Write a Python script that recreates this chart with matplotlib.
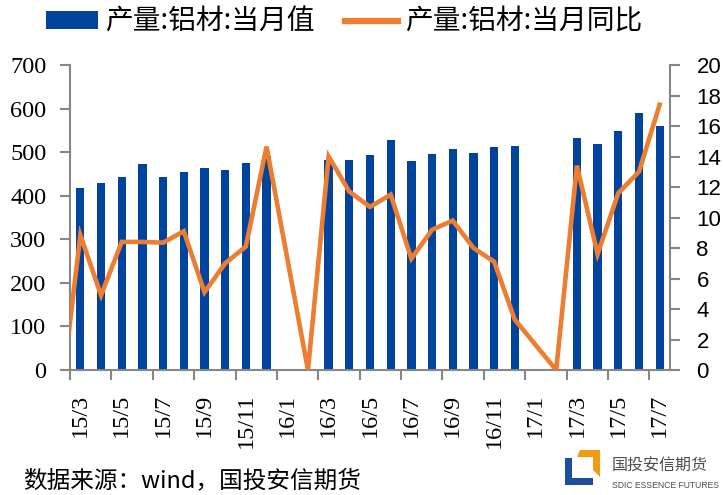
import numpy as np
import matplotlib
matplotlib.use("Agg")
import matplotlib.pyplot as plt
from matplotlib.patches import Polygon
from matplotlib.font_manager import FontProperties

# ---------------- data ----------------
months = ['15/2', '15/3', '15/4', '15/5', '15/6', '15/7', '15/8', '15/9', '15/10', '15/11', '15/12',
          '16/1', '16/2', '16/3', '16/4', '16/5', '16/6', '16/7', '16/8', '16/9', '16/10', '16/11', '16/12',
          '17/1', '17/2', '17/3', '17/4', '17/5', '17/6', '17/7']
output_value = [np.nan, 417, 429, 444, 473, 444, 454, 464, 458, 474, 492,
                np.nan, np.nan, 483, 481, 494, 528, 480, 496, 507, 499, 512, 514,
                np.nan, np.nan, 532, 518, 549, 589, 559]
output_yoy = [-2.6, 8.85, 4.9, 8.4, 8.4, 8.35, 9.1, 5.1, 7.0, 8.1, 14.65,
              np.nan, 0.0, 14.0, 11.7, 10.7, 11.5, 7.3, 9.2, 9.8, 8.0, 7.1, 3.3,
              np.nan, 0.0, 13.4, 7.6, 11.6, 13.0, 17.4]
left_ticks = [0, 100, 200, 300, 400, 500, 600, 700]
right_ticks = [0, 2, 4, 6, 8, 10, 12, 14, 16, 18, 20]
label_bar = '产量:铝材:当月值'
label_line = '产量:铝材:当月同比'
source_text = '数据来源：wind，国投安信期货'

BLUE = '#00449E'
ORANGE = '#ED7D31'
GRAY = '#868686'
CJK = ['Noto Sans CJK SC', 'DejaVu Sans']

plt.rcParams['font.family'] = 'Liberation Serif'

fig = plt.figure(figsize=(7.23, 4.95), dpi=100)
ax = fig.add_axes([70 / 723, 1 - 370 / 495, 600 / 723, 305 / 495])
ax2 = ax.twinx()

x = np.arange(len(months))
vals = np.array(output_value, dtype=float)
bars = ax.bar(x, vals, width=0.4, color=BLUE, zorder=2)

yoy = np.array(output_yoy, dtype=float)
ok = ~np.isnan(yoy)
line, = ax2.plot(x[ok], yoy[ok], color=ORANGE, lw=3.3, solid_joinstyle='miter', zorder=3)

ax.set_xlim(0.5, len(months) - 0.5)
ax.set_ylim(0, 700)
ax2.set_ylim(0, 20)

# spines
for a in (ax, ax2):
    a.spines['top'].set_visible(False)
    for s in ('left', 'right', 'bottom'):
        a.spines[s].set_color(GRAY)
        a.spines[s].set_linewidth(1.5)
ax.spines['right'].set_visible(False)
ax2.spines['left'].set_visible(False)
ax2.spines['bottom'].set_visible(False)

# y ticks
ax.set_yticks(left_ticks)
ax.tick_params(axis='y', direction='out', length=7, width=1.5, color=GRAY, pad=10)
ax2.set_yticks(right_ticks)
ax2.tick_params(axis='y', direction='out', length=7, width=1.5, color=GRAY, pad=12)

# x ticks: labels on odd months, tick marks between every two categories
lab_idx = x[1::2]
ax.set_xticks(lab_idx, labels=[months[i] for i in lab_idx])
ax.set_xticks(np.arange(0.5, len(months) - 1, 2), minor=True)
ax.tick_params(axis='x', which='major', length=0, pad=17, labelrotation=90)
ax.tick_params(axis='x', which='minor', direction='out', length=7, width=1.5, color=GRAY)

serif_fp = FontProperties(family='Liberation Serif', size=17.5)
sans_fp = FontProperties(family='Liberation Sans', size=16)
fig.canvas.draw()
for t in ax.get_yticklabels() + ax.get_xticklabels():
    t.set_fontproperties(serif_fp)
for t in ax2.get_yticklabels():
    t.set_fontproperties(sans_fp)

# legend
leg = fig.legend([bars, line], [label_bar, label_line], loc='center',
                 bbox_to_anchor=(344 / 723, 1 - 22 / 495), ncol=2, frameon=False,
                 prop={'family': CJK, 'size': 20},
                 handlelength=1.9, handleheight=0.6, handletextpad=0.25,
                 columnspacing=1.1, borderpad=0)
leg.legend_handles[1].set_linewidth(4.5)

# source note
fig.text(23 / 723, 1 - 481 / 495, source_text, fontsize=17, family=CJK, va='center', ha='left')

# logo
def px(xp, yp):
    return (xp / 723, 1 - yp / 495)

blue_poly = [px(565, 458), px(572, 458), px(572, 478), px(593, 478), px(593, 485), px(565, 485)]
orange_poly = [px(580, 450), px(600, 450), px(600, 477), px(593, 470), px(593, 457), px(577, 457)]
fig.patches.append(Polygon(blue_poly, closed=True, facecolor='#1F4E9E', edgecolor='none',
                           transform=fig.transFigure, figure=fig))
fig.patches.append(Polygon(orange_poly, closed=True, facecolor='#F29B11', edgecolor='none',
                           transform=fig.transFigure, figure=fig))
fig.text(612 / 723, 1 - 466 / 495, '国投安信期货', fontsize=11.5, family=CJK, color='#4D4D4D',
         va='center', ha='left')
fig.text(612 / 723, 1 - 485 / 495, 'SDIC ESSENCE FUTURES', fontsize=6.2, family='Liberation Sans',
         color='#4D4D4D', va='center', ha='left')

fig.savefig('out.png', dpi=100)
